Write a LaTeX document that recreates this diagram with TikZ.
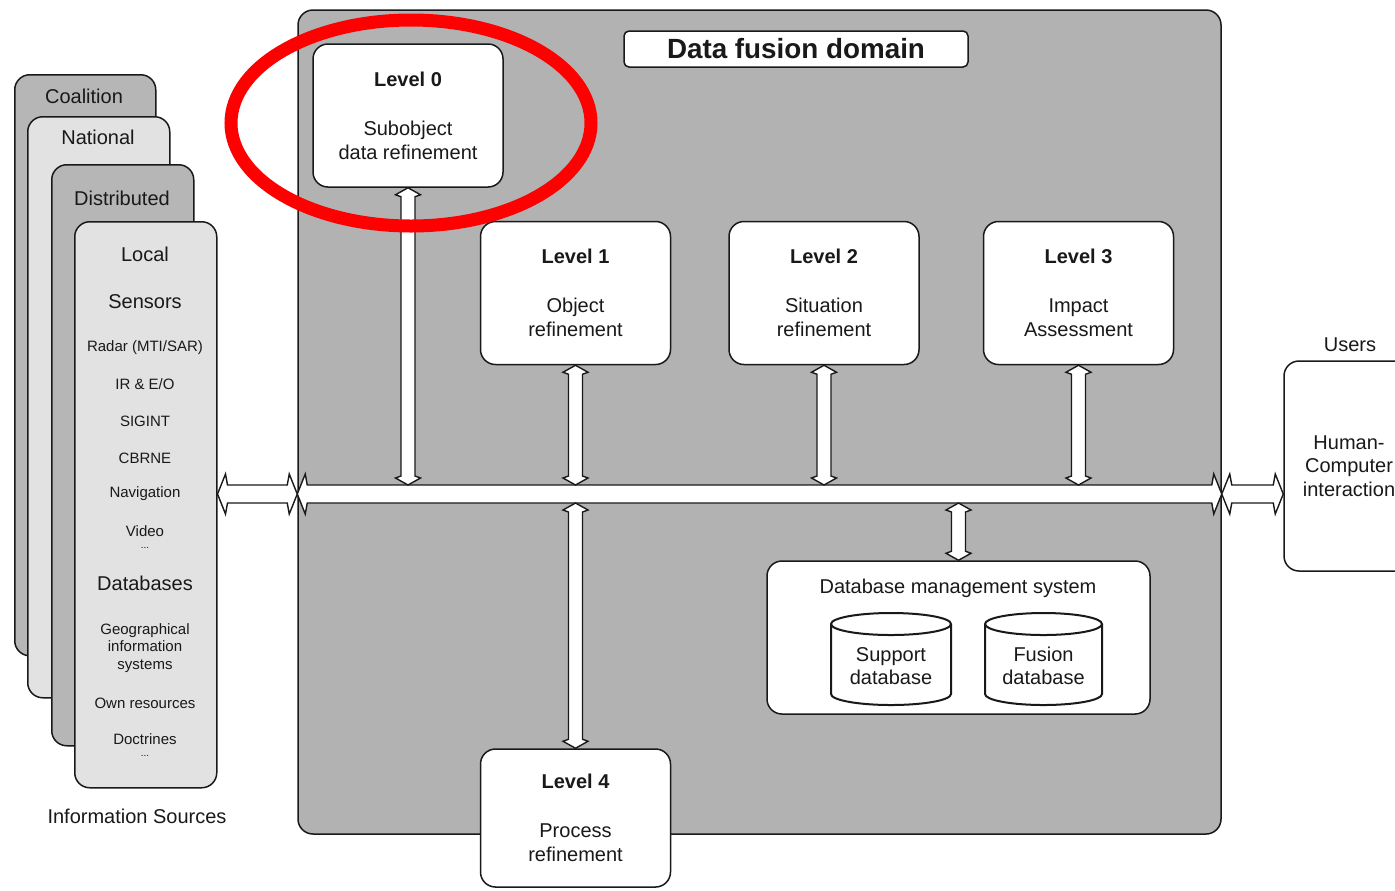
\documentclass[tikz,border=0pt]{standalone}
\usepackage{fontspec}
\setmainfont{Liberation Sans}
\usetikzlibrary{calc}

\definecolor{domgray}{RGB}{178,178,178}
\definecolor{darkstack}{RGB}{182,182,182}
\definecolor{lightstack}{RGB}{226,226,226}
\definecolor{ink}{RGB}{25,25,25}

% horizontal double block arrow: left tip #1, right tip #2
\newcommand\hconn[2]{%
  \filldraw[blk] (#1) -- ++(8,-20) -- ++(2,11) -- ($(#2)+(-10,-9)$) -- ++(2,-11) -- (#2)
    -- ++(-8,20) -- ++(-2,-11) -- ($(#1)+(10,9)$) -- ++(-2,11) -- cycle;}
% vertical double block arrow: top tip #1, bottom tip #2
\newcommand\vconn[2]{%
  \filldraw[blk] (#1) -- ++(12.5,7) -- ++(-5.5,2) -- ($(#2)+(7,-9)$) -- ++(5.5,2) -- (#2)
    -- ++(-12.5,-7) -- ++(5.5,-2) -- ($(#1)+(-7,9)$) -- ++(-5.5,-2) -- cycle;}

\begin{document}
\begin{tikzpicture}[x=0.5pt,y=-0.5pt,
  font=\fontsize{10}{12}\selectfont, text=ink,
  box/.style={draw=ink, line width=0.75pt, fill=white, rounded corners=7.5pt,
    inner sep=0pt, align=center},
  lvl/.style={box, minimum width=95pt, minimum height=71.5pt},
  stackbox/.style={draw=ink, line width=0.75pt, fill=#1, rounded corners=7.5pt,
    inner sep=0pt, anchor=north west, minimum width=71pt},
  blk/.style={draw=ink, line width=0.7pt, fill=white, line join=miter},
  cyl/.style={draw=ink, line width=1pt, fill=white},
  small/.style={font=\fontsize{7.5}{8.75}\selectfont, align=center},
]
\useasboundingbox (0,0) rectangle (1395,890);
\clip (0,0) rectangle (1395,890);

% ---------- information sources stack ----------
\node[stackbox=darkstack, minimum width=70.5pt, minimum height=290.5pt] (coal) at (14,74) {};
\node at (84,96) {Coalition};
\node[stackbox=lightstack, minimum height=290.5pt] (nat) at (27,116) {};
\node at (98,137) {National};
\node[stackbox=darkstack, minimum height=290.5pt] (dist) at (51,164) {};
\node at (122,198) {Distributed};
\node[stackbox=lightstack, minimum height=283pt] (local) at (74,221) {};
\node at (145,254) {Local};
\node at (145,302) {Sensors};
\node[small] at (145,348) {Radar (MTI/SAR)};
\node[small] at (145,384) {IR \& E/O};
\node[small] at (145,421) {SIGINT};
\node[small] at (145,458) {CBRNE};
\node[small] at (145,494) {Navigation};
\node[small] at (145,531) {Video};
\node[small, font=\fontsize{5}{6}\selectfont] at (145,548) {...};
\node at (145,583) {Databases};
\node[small] at (145,648) {Geographical\\information\\systems};
\node[small] at (145,703) {Own resources};
\node[small] at (145,739) {Doctrines};
\node[small, font=\fontsize{5}{6}\selectfont] at (145,756) {...};
\node at (137,816) {Information Sources};

% ---------- data fusion domain ----------
\node[draw=ink, line width=0.75pt, fill=domgray, rounded corners=7.5pt,
  minimum width=461.5pt, minimum height=412pt, inner sep=0pt] (dom) at (759.5,422) {};
\node[box, rounded corners=2.5pt, minimum width=172pt, minimum height=18pt,
  font=\bfseries\fontsize{13.9}{16}\selectfont] (title) at (796,49) {Data fusion domain};

\node[lvl] (l0) at (408,115.5) {\textbf{Level 0}\\[12.5pt]Subobject\\data refinement};
\node[lvl] (l1) at (575.5,293) {\textbf{Level 1}\\[12.5pt]Object\\refinement};
\node[lvl] (l2) at (824,293) {\textbf{Level 2}\\[12.5pt]Situation\\refinement};
\node[lvl] (l3) at (1078.5,293) {\textbf{Level 3}\\[12.5pt]Impact\\Assessment};
\node[lvl, minimum height=69pt] (l4) at (575.5,818) {\textbf{Level 4}\\[12.5pt]Process\\refinement};

% database management system
\node[box, minimum width=191.5pt, minimum height=76.5pt] (dbms) at (958.5,637.5) {};
\node (dbmst) at (958,588) {Database management system};
\filldraw[cyl] (831,624) -- (831,694) arc[start angle=180, end angle=360, x radius=30pt, y radius=5.5pt]
  -- (951,624);
\draw[cyl] (891,624) ellipse [x radius=30pt, y radius=5.5pt];
\node[align=center, font=\fontsize{10}{11.5}\selectfont] (supdb) at (891,666) {Support\\database};
\filldraw[cyl] (985,624) -- (985,694) arc[start angle=180, end angle=360, x radius=29.25pt, y radius=5.5pt]
  -- (1102,624);
\draw[cyl] (1043.5,624) ellipse [x radius=29.25pt, y radius=5.5pt];
\node[align=center, font=\fontsize{10}{11.5}\selectfont] (fusdb) at (1043.5,666) {Fusion\\database};

% users
\node at (1350,345) {Users};
\node[box, minimum width=65pt, minimum height=105pt,
  font=\fontsize{10}{11.75}\selectfont] (users) at (1349,466) {Human-\\Computer\\interaction};

% ---------- connectors ----------
\coordinate (busy) at (0,494);
\coordinate (bt) at (0,485);
\coordinate (bb) at (0,503);
\coordinate (busL) at (dom.west |- busy);
\coordinate (busR) at (dom.east |- busy);
\coordinate (srcR) at (local.east |- busy);
\coordinate (usrL) at (users.west |- busy);
\coordinate (a0) at (l0.south |- bt);
\coordinate (a1) at (l1.south |- bt);
\coordinate (a2) at (l2.south |- bt);
\coordinate (a3) at (l3.south |- bt);
\coordinate (a4) at (l4.north |- bb);
\coordinate (adb) at (dbms.north |- bb);

\hconn{busL}{busR}
\hconn{srcR}{busL}
\hconn{busR}{usrL}
\vconn{l0.south}{a0}
\vconn{l1.south}{a1}
\vconn{l2.south}{a2}
\vconn{l3.south}{a3}
\vconn{a4}{l4.north}
\vconn{adb}{dbms.north}

% highlight ring
\draw[red, line width=6.5pt] (411,123) ellipse [x radius=90pt, y radius=51.5pt];
\end{tikzpicture}
\end{document}
